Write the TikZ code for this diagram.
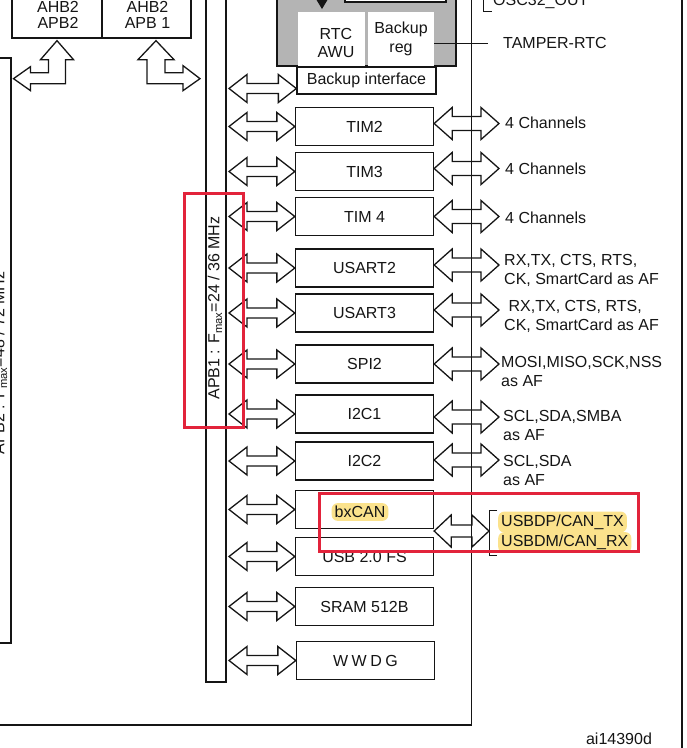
\documentclass[tikz,border=0pt]{standalone}
\usepackage{fontspec}
\setmainfont{Liberation Sans}
\usetikzlibrary{positioning,calc}
\definecolor{ink}    {HTML}{151515}
\definecolor{alert}  {HTML}{E2233B}
\definecolor{hilite} {HTML}{FBE28C}
\definecolor{bkgray} {HTML}{B4B4B4}
\tikzset{
  every node/.style={font=\fontsize{16}{18.5}\selectfont, text=ink},
  % --- nodes
  periph/.style = {draw=ink, line width=1.3pt, fill=white, minimum width=138pt,
                   minimum height=38pt, inner sep=0pt},
  cell/.style   = {fill=white, align=center, inner sep=0pt},
  sig/.style    = {anchor=west, align=left, inner sep=0pt},
  hl/.style     = {fill=hilite, rounded corners=6pt, inner sep=3pt, anchor=west},
  buslbl/.style = {rotate=90, inner sep=0pt},
  % --- lines
  fatarr/.style = {draw=ink, line width=1.3pt, line join=miter},
  wire/.style   = {draw=ink, line width=1.3pt},
  redbox/.style = {draw=alert, line width=3pt},
}
% #1 from, #2 to, #3 head half height, #4 shaft half height, #5 head length
\newcommand{\dblarrow}[5]{%
  \draw[fatarr] let \p1=#1, \p2=#2 in
    (\x1,\y1) -- ++(#5pt,#3pt) -- ++(0pt,#4pt-#3pt) -- (\x2-#5pt,\y1+#4pt)
    -- ++(0pt,#3pt-#4pt) -- (\x2,\y1) -- ++(-#5pt,-#3pt) -- ++(0pt,#3pt-#4pt)
    -- (\x1+#5pt,\y1-#4pt) -- ++(0pt,#4pt-#3pt) -- cycle;}

\begin{document}
\begin{tikzpicture}[x=1pt,y=-1pt]
  \useasboundingbox (0,0) rectangle (687,748);
  \clip (0,0) rectangle (687,748);

  % bridges
  \node[draw=ink, line width=1.3pt, minimum width=90pt, minimum height=60pt] (ahbtwo) at (57,8) {};
  \node[draw=ink, line width=1.3pt, minimum width=89pt, minimum height=60pt] (ahbone) at (146.5,8) {};
  \node[align=center, inner sep=0pt, font=\fontsize{16}{16}\selectfont] at (58,15) {AHB2\\APB2};
  \node[align=center, inner sep=0pt, font=\fontsize{16}{16}\selectfont] at (147.5,15) {AHB2\\APB 1};

  % buses
  \draw[wire] (-12,58) rectangle (11,643);
  \node[buslbl] (apbtwolbl) at (0,363) {APB2 : F$_{\mathrm{max}}$=48 / 72 MHz};
  \draw[wire] (206,-20) rectangle (226,682);
  \node[buslbl] (apbonelbl) at (215,308) {APB1 : F$_{\mathrm{max}}$=24 / 36 MHz};

  % bridge to bus arrows
  \draw[fatarr, shift={(ahbtwo.south)}] (0,2) -- (16.5,21) -- (8.5,21) -- (8.5,45)
    -- (-26.5,45) -- (-26.5,52) -- (-43.5,40) -- (-26.5,28) -- (-26.5,34)
    -- (-8.5,34) -- (-8.5,21) -- (-16.5,21) -- cycle;
  \draw[fatarr, shift={(ahbone.south)}] (9.5,2) -- (27.5,21) -- (18.5,21) -- (18.5,34)
    -- (36.5,34) -- (36.5,27) -- (53.5,40) -- (36.5,52) -- (36.5,45)
    -- (0.5,45) -- (0.5,21) -- (-8.5,21) -- cycle;

  % backup domain
  \filldraw[fill=bkgray, draw=ink, line width=1.3pt] (277,-20) rectangle (456,66);
  \draw[wire, fill=white] (345,-20) rectangle (446,2);
  \fill[ink] (316,-1) -- (328,-1) -- (322,9) -- cycle;
  \node[cell, minimum width=67pt, minimum height=54pt] (rtc) at (331.5,39) {};
  \node[align=center, inner sep=0pt] at (336,43) {RTC\\AWU};
  \node[cell, minimum width=66pt, minimum height=54pt] (bkreg) at (401,39) {Backup\\reg};
  \node[periph, minimum width=139pt, minimum height=27pt] (bkif) at (366.5,80.5) {Backup interface};
  \node[anchor=west, inner sep=0pt] (tamper) at (503,43) {TAMPER-RTC};
  \draw[wire, line width=1pt] (bkreg.east |- 0,43) -- (488,43);

  % outer frame
  \draw[wire] (471.5,-20) -- (471.5,725) -- (-20,725);
  \draw[wire] (682,-20) -- (682,760);
  \draw[wire, line width=1pt] (483,-20) -- (483,11) -- (492,11);
  \node[anchor=base west, inner sep=0pt] (osc) at (493,5) {OSC32\_OUT};

  % APB1 peripherals
  \node[periph] (tim2)   at (364.5,126.5) {TIM2};
  \node[periph] (tim3)   at (364.5,171.5) {TIM3};
  \node[periph] (tim4)   at (364.5,216.5) {TIM 4};
  \node[periph] (usart2) at (364.5,268)   {USART2};
  \node[periph] (usart3) at (364.5,313)   {USART3};
  \node[periph] (spi2)   at (364.5,364)   {SPI2};
  \node[periph] (i2c1)   at (364.5,414)   {I2C1};
  \node[periph] (i2c2)   at (364.5,461)   {I2C2};
  \node[periph] (bxcan)  at (364.5,509.5) {};
  \node[periph] (usb)    at (364.5,556.5) {USB 2.0 FS};
  \node[periph] (sram)   at (364.5,606.5) {SRAM 512B};
  \node[periph] (wwdg)   at (365.5,660.5) {\addfontfeature{LetterSpace=22}WWDG};
  \node[hl, anchor=center] (bxcantxt) at (360,512) {bxCAN};

  % bus side arrows
  \coordinate (busr) at (229,0);
  \dblarrow{($(busr |- bkif.west)+(0,8)$)}{($(bkif.west)+(0,8)$)}{14}{5}{18}
  \foreach \m in {tim2,tim3,tim4,usart2,usart3,spi2,i2c1,i2c2,bxcan,usb,sram,wwdg}{
    \dblarrow{(busr |- \m.west)}{(\m.west)}{14}{5}{18}
  }

  % pin side arrows
  \coordinate (pinl) at (499,0);
  \foreach \m/\dy in {tim2/-3,tim3/-3,tim4/0,usart2/-3,usart3/-3,spi2/0,i2c1/3,i2c2/-1}{
    \dblarrow{($(\m.east)+(0,\dy)$)}{($(pinl |- \m.east)+(0,\dy)$)}{16}{7}{18}
  }

  % pin labels
  \node[sig] (p-tim2)   at (505,123)   {4 Channels};
  \node[sig] (p-tim3)   at (505,169)   {4 Channels};
  \node[sig] (p-tim4)   at (505,218)   {4 Channels};
  \node[sig] (p-usart2) at (504,270.5) {RX,TX, CTS, RTS,\\CK, SmartCard as AF};
  \node[sig] (p-usart3) at (504,316.5) {\ RX,TX, CTS, RTS,\\CK, SmartCard as AF};
  \node[sig] (p-spi2)   at (501,371.5) {MOSI,MISO,SCK,NSS\\as AF};
  \node[sig] (p-i2c1)   at (503,425.5) {SCL,SDA,SMBA\\as AF};
  \node[sig] (p-i2c2)   at (503,470.5) {SCL,SDA\\as AF};

  % shared USB / CAN pins
  \coordinate (brk) at (489,531);
  \draw[wire, line width=1pt] ($(brk)+(8,-21)$) -- ($(brk)+(0,-21)$) -- ($(brk)+(0,24)$) -- ($(brk)+(8,24)$);
  \dblarrow{($(bxcan.south east)!0.5!(usb.north east)+(0,-2)$)}{(brk)}{16}{6}{17}
  \node[hl, minimum height=20pt] (dp) at (498,522) {USBDP/CAN\_TX};
  \node[hl, minimum height=20pt] (dm) at (498,542.5) {USBDM/CAN\_RX};

  % marks
  \draw[redbox] (184,193) rectangle (243,427);
  \draw[redbox] (319,493) rectangle (638,551);

  \node[inner sep=0pt] (ref) at (619,739) {ai14390d};
\end{tikzpicture}
\end{document}
